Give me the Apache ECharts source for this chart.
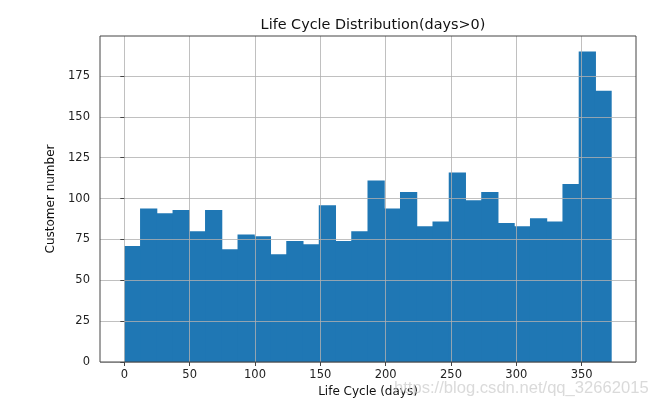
<!DOCTYPE html>
<html>
<head>
<meta charset="utf-8">
<script src="https://cdn.jsdelivr.net/npm/echarts@6/dist/echarts.min.js"></script>
<style>
html,body{margin:0;padding:0;background:#fff;}
#chart{width:657px;height:407px;}
</style>
</head>
<body>
<div id="chart"></div>
<script>
// Histogram counts per bin (30 bins)
const counts = [71, 94, 91, 93, 80, 93, 69, 78, 77, 66, 74, 72, 96, 74, 80, 111, 94, 104, 83, 86, 116, 99, 104, 85, 83, 88, 86, 109, 190, 166];
const dataMin = 0;
const dataMax = 373;
const xTicks = [0, 50, 100, 150, 200, 250, 300, 350];
const yTicks = [0, 25, 50, 75, 100, 125, 150, 175];
const titleText = 'Life Cycle Distribution(days>0)';
const xLabel = 'Life Cycle (days)';
const yLabel = 'Customer number';
const watermark = 'https://blog.csdn.net/qq_32662015';

const binW = (dataMax - dataMin) / counts.length;
const bins = counts.map((c, i) => [dataMin + i * binW, dataMin + (i + 1) * binW, c]);

const chart = echarts.init(document.getElementById('chart'));
const font = 'DejaVu Sans';
chart.setOption({
  animation: false,
  title: {
    text: titleText, left: 368, top: 13, textAlign: 'center',
    textStyle: {fontFamily: font, fontSize: 14.4, fontWeight: 'normal', color: '#111'}
  },
  grid: {left: 100, right: 21, top: 36, bottom: 45, show: true, borderColor: '#444', borderWidth: 1, z: 4},
  xAxis: {
    type: 'value', min: -18.6, max: 391.6, z: 3,
    name: xLabel, nameLocation: 'middle', nameGap: 23,
    nameTextStyle: {fontFamily: font, fontSize: 12, color: '#111'},
    axisLine: {show: false},
    axisTick: {show: true, length: 4, customValues: xTicks, lineStyle: {color: '#444'}},
    axisLabel: {customValues: xTicks, fontFamily: font, fontSize: 11.5, color: '#222', margin: 7},
    splitLine: {show: true, lineStyle: {color: '#b0b0b0', width: 0.8}}
  },
  yAxis: {
    type: 'value', min: 0, max: 199.5, z: 3,
    name: yLabel, nameLocation: 'middle', nameGap: 36,
    nameTextStyle: {fontFamily: font, fontSize: 12, color: '#111'},
    axisLine: {show: false},
    axisTick: {show: true, length: 4, customValues: yTicks, lineStyle: {color: '#444'}},
    axisLabel: {customValues: yTicks, fontFamily: font, fontSize: 11.5, color: '#222', margin: 10},
    splitLine: {show: true, lineStyle: {color: '#b0b0b0', width: 0.8}}
  },
  graphic: [{
    type: 'text', left: 394, top: 380, z: 10,
    style: {text: watermark, fontFamily: 'Liberation Sans', fontSize: 16.6, fill: 'rgba(205,205,205,0.75)'}
  }],
  series: [{
    type: 'custom', z: 2,
    renderItem: function (params, api) {
      const p0 = api.coord([api.value(0), api.value(2)]);
      const p1 = api.coord([api.value(1), 0]);
      const last = params.dataIndex === counts.length - 1;
      return {
        type: 'rect',
        shape: {x: p0[0] - (params.dataIndex > 0 ? 0.5 : 0), y: p0[1],
                width: p1[0] - p0[0] + (params.dataIndex > 0 ? 0.5 : 0) + (last ? 0 : 0.5),
                height: p1[1] - p0[1]},
        style: {fill: '#1f77b4', stroke: null}
      };
    },
    encode: {x: [0, 1], y: 2},
    data: bins
  }]
});
</script>
</body>
</html>
